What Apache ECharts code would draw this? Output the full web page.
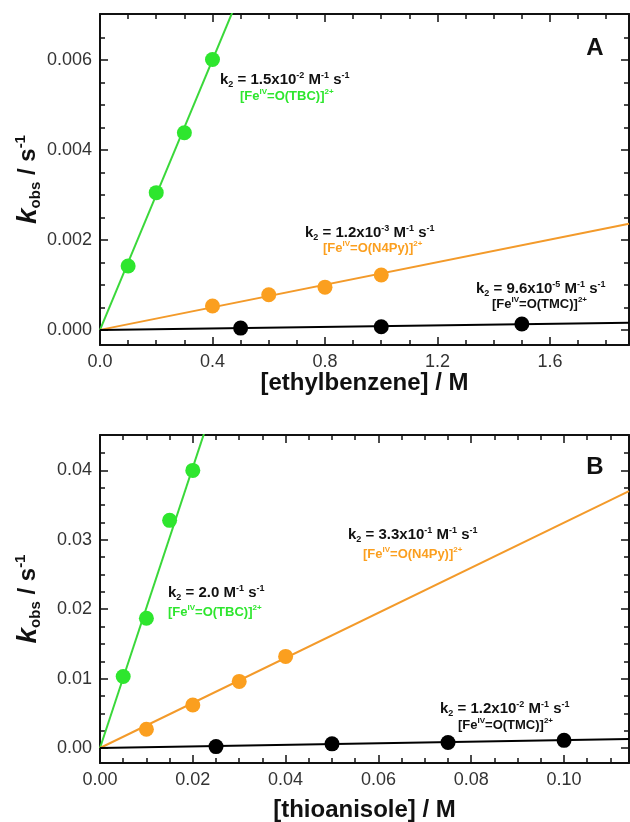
<!DOCTYPE html>
<html><head><meta charset="utf-8">
<script src="https://cdn.jsdelivr.net/npm/echarts@6/dist/echarts.min.js"></script>
<style>html,body{margin:0;padding:0;background:#fff}#c{width:630px;height:822px}</style>
</head><body><div id="c"></div>
<script>
// ---------- Panel A data (ethylbenzene) ----------
const tbcX_A = [0.1, 0.2, 0.3, 0.4];
const tbcY_A = [0.00142, 0.00305, 0.00438, 0.00601];
const n4pyX_A = [0.4, 0.6, 0.8, 1.0];
const n4pyY_A = [0.00053, 0.00078, 0.00095, 0.00122];
const tmcX_A = [0.5, 1.0, 1.5];
const tmcY_A = [0.00004, 0.00007, 0.00013];
const fitTbc_A = [[0, 0], [0.48, 0.0072]];
const fitN4py_A = [[0, 0], [1.881, 0.00236]];
const fitTmc_A = [[0, 0], [1.881, 0.00016]];
const xMajor_A = [0, 0.4, 0.8, 1.2, 1.6];
const xMinor_A = [0.1, 0.2, 0.3, 0.5, 0.6, 0.7, 0.9, 1.0, 1.1, 1.3, 1.4, 1.5, 1.7, 1.8];
const yMajor_A = [0, 0.002, 0.004, 0.006];
const yMinor_A = [0.0005, 0.001, 0.0015, 0.0025, 0.003, 0.0035, 0.0045, 0.005, 0.0055, 0.0065];
const xRange_A = [0, 1.881];
const yRange_A = [-0.000336, 0.00702];

// ---------- Panel B data (thioanisole) ----------
const tbcX_B = [0.005, 0.01, 0.015, 0.02];
const tbcY_B = [0.0103, 0.0187, 0.0328, 0.0400];
const n4pyX_B = [0.01, 0.02, 0.03, 0.04];
const n4pyY_B = [0.0027, 0.0062, 0.0096, 0.0132];
const tmcX_B = [0.025, 0.05, 0.075, 0.10];
const tmcY_B = [0.0002, 0.0006, 0.0008, 0.0011];
const fitTbc_B = [[0, 0], [0.0235, 0.0475]];
const fitN4py_B = [[0, 0], [0.114, 0.0370]];
const fitTmc_B = [[0, 0], [0.114, 0.0013]];
const xMajor_B = [0, 0.02, 0.04, 0.06, 0.08, 0.10];
const xMinor_B = [0.005, 0.01, 0.015, 0.025, 0.03, 0.035, 0.045, 0.05, 0.055, 0.065, 0.07, 0.075, 0.085, 0.09, 0.095, 0.105, 0.11];
const yMajor_B = [0, 0.01, 0.02, 0.03, 0.04];
const yMinor_B = [0.0025, 0.005, 0.0075, 0.0125, 0.015, 0.0175, 0.0225, 0.025, 0.0275, 0.0325, 0.035, 0.0375, 0.0425];
const xRange_B = [0, 0.114];
const yRange_B = [-0.00216, 0.0451];

const GREEN = '#2ee62e', GREEN_L = '#3ad83a', ORANGE = '#fb9f1f', ORANGE_L = '#f39a2a', BLACK = '#000';
const FONT = '"Liberation Sans", Arial, sans-serif';

const zip = (xs, ys) => xs.map((x, i) => [x, ys[i]]);

function makeAxes(dim, gi, range, majors, minors, decimals, name, nameGap) {
  const isX = dim === 'x';
  const posA = isX ? 'bottom' : 'left';
  const posB = isX ? 'top' : 'right';
  const base = {
    type: 'value', gridIndex: gi, min: range[0], max: range[1],
    splitLine: { show: false }, minorTick: { show: false }
  };
  const lineOn = { show: true, onZero: false, lineStyle: { color: '#111', width: 2 } };
  const lineOff = { show: false, onZero: false };
  const fmt = v => Number(v).toFixed(decimals);
  return [
    Object.assign({}, base, {
      position: posA, axisLine: lineOn,
      axisTick: { show: true, inside: true, length: 8, lineStyle: { color: '#111', width: 1.5 }, customValues: majors },
      axisLabel: { show: true, customValues: majors, formatter: fmt, color: '#333', fontSize: 18, fontFamily: FONT, margin: 8 },
      name: name, nameLocation: 'middle', nameGap: nameGap, nameMoveOverlap: false,
      nameTextStyle: {
        fontFamily: FONT, fontSize: 24, fontWeight: 'bold', color: '#111',
        rich: {
          k: { fontSize: 28, fontStyle: 'italic', fontWeight: 'bold', fontFamily: FONT, color: '#111', lineHeight: 30, verticalAlign: 'middle' },
          s: { fontSize: 15, fontWeight: 'bold', fontFamily: FONT, color: '#111', lineHeight: 11, verticalAlign: 'bottom' },
          n: { fontSize: 24, fontWeight: 'bold', fontFamily: FONT, color: '#111', lineHeight: 30 },
          p: { fontSize: 15, fontWeight: 'bold', fontFamily: FONT, color: '#111', lineHeight: 15, verticalAlign: 'top' }
        }
      }
    }),
    Object.assign({}, base, {
      position: posA, axisLine: lineOff,
      axisTick: { show: true, inside: true, length: 5, lineStyle: { color: '#111', width: 1.5 }, customValues: minors },
      axisLabel: { show: false }
    }),
    Object.assign({}, base, {
      position: posB, axisLine: lineOn,
      axisTick: { show: true, inside: true, length: 8, lineStyle: { color: '#111', width: 1.5 }, customValues: majors },
      axisLabel: { show: false }
    }),
    Object.assign({}, base, {
      position: posB, axisLine: lineOff,
      axisTick: { show: true, inside: true, length: 5, lineStyle: { color: '#111', width: 1.5 }, customValues: minors },
      axisLabel: { show: false }
    })
  ];
}

const yName = '{k|k}{s|obs}{n| / s}{p|-1}';

const xAxes = [].concat(
  makeAxes('x', 0, xRange_A, xMajor_A, xMinor_A, 1, '[ethylbenzene] / M', 26),
  makeAxes('x', 1, xRange_B, xMajor_B, xMinor_B, 2, '[thioanisole] / M', 35)
);
const yAxes = [].concat(
  makeAxes('y', 0, yRange_A, yMajor_A, yMinor_A, 3, yName, 57),
  makeAxes('y', 1, yRange_B, yMajor_B, yMinor_B, 2, yName, 57)
);

function lineSeries(gi, data, color) {
  return { type: 'line', xAxisIndex: gi * 4, yAxisIndex: gi * 4, data: data, showSymbol: false, symbol: 'none',
    lineStyle: { color: color, width: 2 }, clip: true, silent: true, z: 2 };
}
function dotSeries(gi, xs, ys, color) {
  return { type: 'scatter', xAxisIndex: gi * 4, yAxisIndex: gi * 4, data: zip(xs, ys), symbol: 'circle', symbolSize: 15,
    itemStyle: { color: color, opacity: 1 }, z: 3 };
}

const rich = {
  a: { fontSize: 15, fontWeight: 'bold', fontFamily: FONT, lineHeight: 18, fill: '#111' },
  sb: { fontSize: 9, fontWeight: 'bold', fontFamily: FONT, lineHeight: 9, verticalAlign: 'bottom', fill: '#111' },
  sp: { fontSize: 9, fontWeight: 'bold', fontFamily: FONT, lineHeight: 9, verticalAlign: 'top', fill: '#111' }
};
function richColor(c) {
  return {
    a: { fontSize: 13, fontWeight: 'bold', fontFamily: FONT, lineHeight: 16, fill: c },
    sp: { fontSize: 8, fontWeight: 'bold', fontFamily: FONT, lineHeight: 10, verticalAlign: 'top', fill: c }
  };
}
function k2Text(x, y, mant, exp) {
  let t = '{a|k}{sb|2}{a| = ' + mant + '}';
  if (exp !== null) t += '{sp|' + exp + '}';
  t += '{a| M}{sp|-1}{a| s}{sp|-1}';
  return { type: 'text', x: x, y: y, style: { text: t, rich: rich, fill: '#111', align: 'left', verticalAlign: 'middle' }, z: 10 };
}
function cplx(x, y, lig, color) {
  const t = '{a|[Fe}{sp|IV}{a|=O(' + lig + ')]}{sp|2+}';
  return { type: 'text', x: x, y: y, style: { text: t, rich: richColor(color), fill: color, align: 'left', verticalAlign: 'middle' }, z: 10 };
}
function panelLetter(x, y, s) {
  return { type: 'text', x: x, y: y, style: { text: s, font: 'bold 24px ' + FONT, fill: '#111', align: 'center', verticalAlign: 'middle' }, z: 10 };
}

const option = {
  backgroundColor: '#fff',
  animation: false,
  grid: [
    { left: 100, top: 14, width: 529, height: 331, outerBoundsMode: 'none', containLabel: false },
    { left: 100, top: 435, width: 529, height: 328, outerBoundsMode: 'none', containLabel: false }
  ],
  xAxis: xAxes,
  yAxis: yAxes,
  series: [
    lineSeries(0, fitTbc_A, GREEN_L), lineSeries(0, fitN4py_A, ORANGE_L), lineSeries(0, fitTmc_A, BLACK),
    dotSeries(0, tbcX_A, tbcY_A, GREEN), dotSeries(0, n4pyX_A, n4pyY_A, ORANGE), dotSeries(0, tmcX_A, tmcY_A, BLACK),
    lineSeries(1, fitTbc_B, GREEN_L), lineSeries(1, fitN4py_B, ORANGE_L), lineSeries(1, fitTmc_B, BLACK),
    dotSeries(1, tbcX_B, tbcY_B, GREEN), dotSeries(1, n4pyX_B, n4pyY_B, ORANGE), dotSeries(1, tmcX_B, tmcY_B, BLACK)
  ],
  graphic: [
    panelLetter(595, 48, 'A'),
    k2Text(220, 80, '1.5x10', '-2'), cplx(240, 96, 'TBC', GREEN),
    k2Text(305, 233, '1.2x10', '-3'), cplx(323, 248, 'N4Py', ORANGE),
    k2Text(476, 289, '9.6x10', '-5'), cplx(492, 304, 'TMC', '#111'),
    panelLetter(595, 467, 'B'),
    k2Text(168, 593, '2.0', null), cplx(168, 612, 'TBC', GREEN),
    k2Text(348, 535, '3.3x10', '-1'), cplx(363, 554, 'N4Py', ORANGE),
    k2Text(440, 709, '1.2x10', '-2'), cplx(458, 725, 'TMC', '#111')
  ]
};

const chart = echarts.init(document.getElementById('c'), null, { renderer: 'canvas' });
chart.setOption(option);
</script>
</body></html>
